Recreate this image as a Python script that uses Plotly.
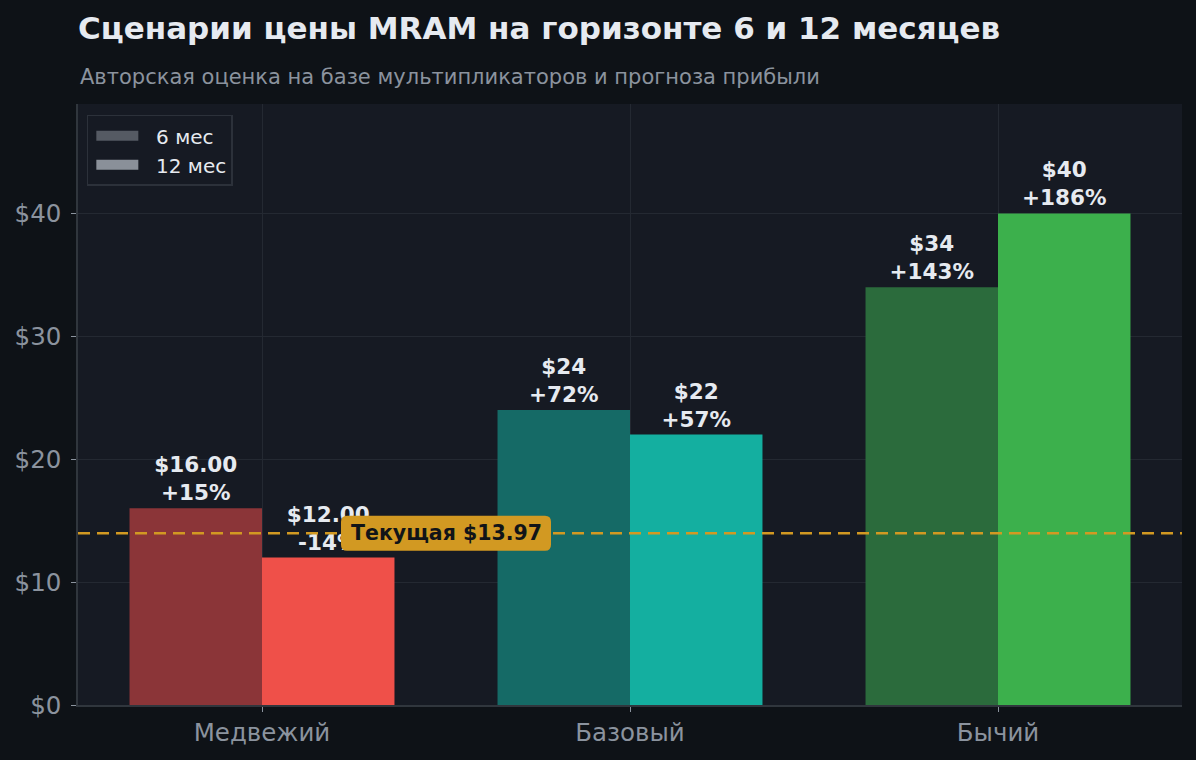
import plotly.graph_objects as go

# scenario prices, USD
SCENARIOS = ["Медвежий", "Базовый", "Бычий"]
PRICE_6M = [16, 24, 34]
PRICE_12M = [12, 22, 40]
CURRENT_PRICE = 13.97

COLORS_6M = ["#8b3538", "#156a66", "#2b6b3c"]
COLORS_12M = ["#ef5049", "#14afa0", "#3cb04c"]

BG = "#0e1217"
PANEL = "#161a23"
GRID = "#242932"
MUTED = "#8b939e"
TEXT = "#e6eaf0"
GOLD = "#d29922"
FONT = "DejaVu Sans"


def _label(value):
    price = f"${value:.2f}" if value < 20 else f"${value:.0f}"
    change = (value / CURRENT_PRICE - 1) * 100
    return f"<b>{price}<br>{change:+.0f}%</b>"


fig = go.Figure()
for name, values, colors, legend_color in [
    ("6 мес", PRICE_6M, COLORS_6M, "#555a63"),
    ("12 мес", PRICE_12M, COLORS_12M, "#8a9099"),
]:
    fig.add_trace(go.Bar(
        x=SCENARIOS, y=values, name=name,
        marker=dict(color=colors, line=dict(width=0)),
        text=[_label(v) for v in values],
        textposition="outside", textangle=0,
        textfont=dict(size=21.5, color=TEXT, family=FONT),
        cliponaxis=False, showlegend=False,
    ))
    # legend swatch only (thick line looks like the wide patch)
    fig.add_trace(go.Scatter(
        x=[None], y=[None], name="\u00a0\u00a0" + name, mode="lines",
        line=dict(color=legend_color, width=15), showlegend=True,
    ))

fig.add_hline(y=CURRENT_PRICE, line=dict(color=GOLD, width=2.5, dash="12px,7px"))

# rounded label box behind the "current price" text
w, h, r = 105, 17.5, 6
box = (
    f"M{-w + r},{-h} H{w - r} Q{w},{-h} {w},{-h + r} V{h - r} Q{w},{h} {w - r},{h} "
    f"H{-w + r} Q{-w},{h} {-w},{h - r} V{-h + r} Q{-w},{-h} {-w + r},{-h} Z"
)
fig.add_shape(
    type="path", path=box, xref="x", yref="y",
    xsizemode="pixel", ysizemode="pixel", xanchor=0.5, yanchor=CURRENT_PRICE,
    fillcolor=GOLD, line=dict(width=0), layer="above",
)
fig.add_annotation(
    x=0.5, y=CURRENT_PRICE, xref="x", yref="y",
    text=f"<b>Текущая ${CURRENT_PRICE:.2f}</b>", showarrow=False,
    font=dict(size=20.5, color="#111418", family=FONT),
)

fig.add_annotation(
    x=0, y=1.045, xref="paper", yref="paper", xanchor="left", yanchor="middle",
    text="Авторская оценка на базе мультипликаторов и прогноза прибыли",
    showarrow=False, font=dict(size=21, color=MUTED, family=FONT),
)

fig.update_layout(
    width=1196, height=760,
    paper_bgcolor=BG, plot_bgcolor=PANEL,
    font=dict(family=FONT, color=TEXT),
    title=dict(
        text="<b>Сценарии цены MRAM на горизонте 6 и 12 месяцев</b>",
        x=78 / 1196, xanchor="left", y=1 - 28 / 760, yanchor="middle",
        font=dict(size=31, color=TEXT, family=FONT),
    ),
    margin=dict(l=78, r=14, t=104, b=55),
    barmode="group", bargap=0.28, bargroupgap=0,
    uniformtext=dict(minsize=20, mode="show"),
    legend=dict(
        x=0.008, y=0.982, xanchor="left", yanchor="top",
        bgcolor=PANEL, bordercolor="#2c313a", borderwidth=1.5,
        font=dict(size=20, color=TEXT, family=FONT),
        traceorder="normal", itemwidth=42, indentation=3,
    ),
    xaxis=dict(
        showgrid=True, gridcolor=GRID, gridwidth=1,
        showline=True, linecolor="#30363d", linewidth=1.5,
        ticks="outside", ticklen=5, tickcolor=MUTED,
        tickfont=dict(size=24.5, color=MUTED, family=FONT),
    ),
    yaxis=dict(
        range=[0, 48.9], dtick=10, tickprefix="$",
        showgrid=True, gridcolor=GRID, gridwidth=1, zeroline=False,
        showline=True, linecolor="#30363d", linewidth=1.5,
        ticks="outside", ticklen=5, tickcolor=MUTED, ticklabelstandoff=5,
        tickfont=dict(size=24.5, color=MUTED, family=FONT),
    ),
)

fig.write_html(
    "out.html",
    config={"displayModeBar": False},
    post_script="document.body.style.margin='0';",
)
